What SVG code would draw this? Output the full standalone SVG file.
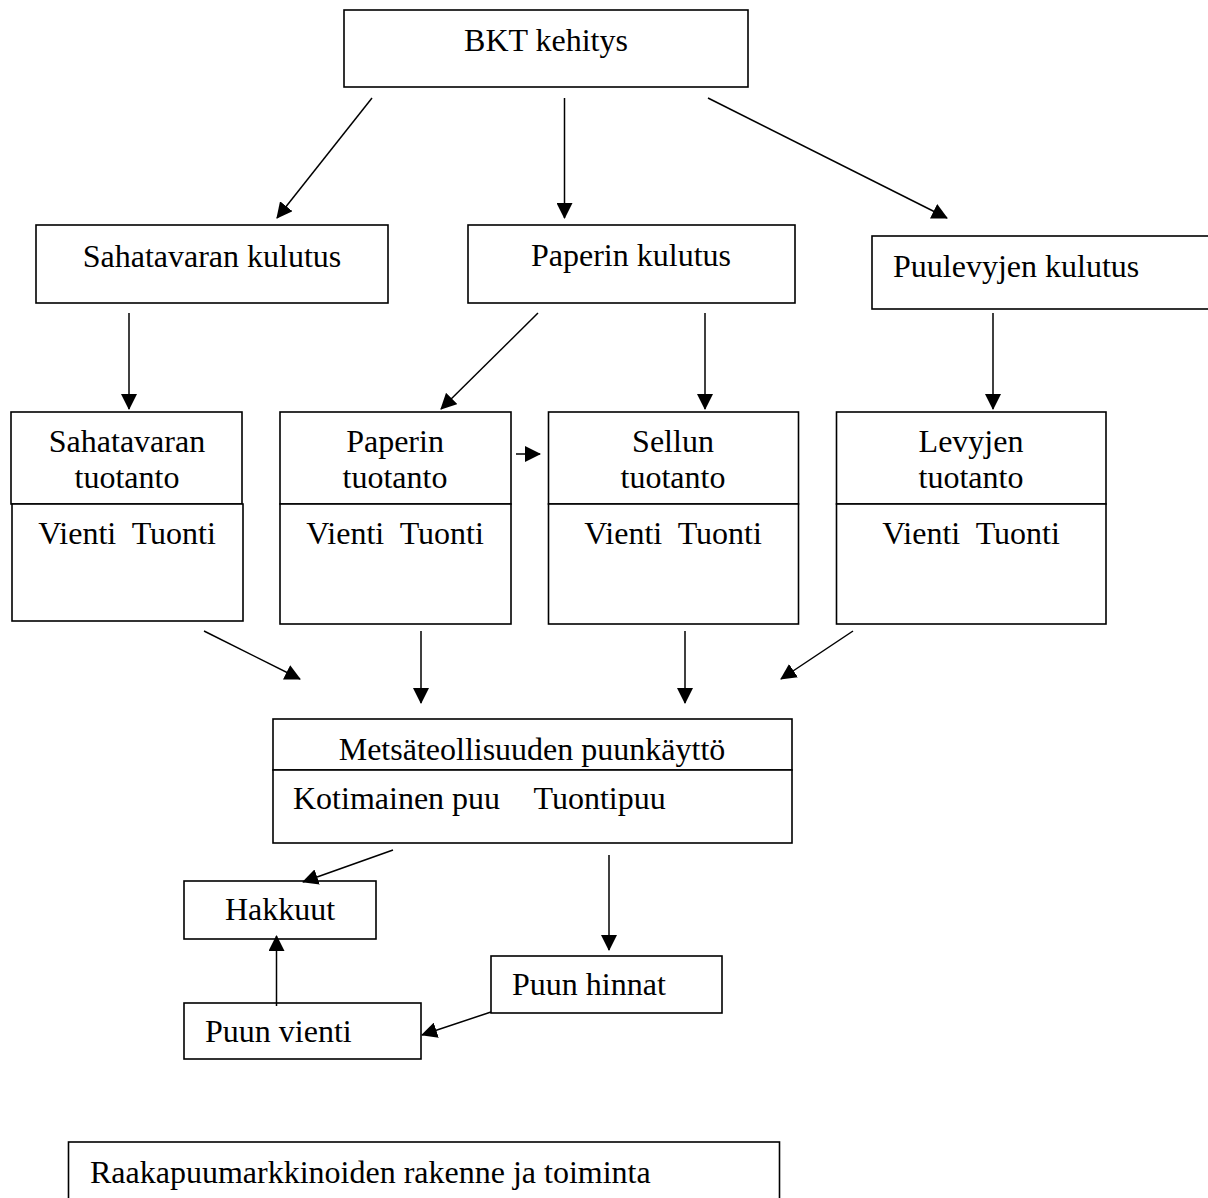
<svg xmlns="http://www.w3.org/2000/svg" width="1208" height="1198" viewBox="0 0 1208 1198">
<style>
.box{fill:#fff;stroke:#000;stroke-width:1.6}
.ln{fill:none;stroke:#000;stroke-width:1.5}
text{font-family:"Liberation Serif","Times New Roman",serif;font-size:32px;fill:#000}
.c{text-anchor:middle}
</style>
<defs>
<marker id="ah" markerUnits="userSpaceOnUse" markerWidth="16" markerHeight="16" viewBox="0 0 16 16" refX="15" refY="8" orient="auto">
<path d="M0,0 L16,8 L0,16 Z" fill="#000"/>
</marker>
</defs>
<rect width="1208" height="1198" fill="#fff"/>
<g id="bkt"><rect class="box" x="344" y="10" width="404" height="77"/><text class="c" x="546" y="51">BKT kehitys</text></g>
<g id="sahakulutus"><rect class="box" x="36" y="225" width="352" height="78"/><text class="c" x="212" y="267">Sahatavaran kulutus</text></g>
<g id="paperikulutus"><rect class="box" x="468" y="225" width="327" height="78"/><text class="c" x="631" y="266">Paperin kulutus</text></g>
<g id="puulevykulutus"><rect class="box" x="872" y="236" width="340" height="73"/><text x="893" y="277">Puulevyjen kulutus</text></g>
<g id="sahatuotanto"><rect class="box" x="11" y="412" width="231" height="92"/><rect class="box" x="12" y="504" width="231" height="117"/><text class="c" x="127" y="452">Sahatavaran</text><text class="c" x="127" y="488">tuotanto</text><text class="c" x="127" y="544" xml:space="preserve">Vienti  Tuonti</text></g>
<g id="paperituotanto"><rect class="box" x="280" y="412" width="231" height="92"/><rect class="box" x="280" y="504" width="231" height="120"/><text class="c" x="395" y="452">Paperin</text><text class="c" x="395" y="488">tuotanto</text><text class="c" x="395" y="544" xml:space="preserve">Vienti  Tuonti</text></g>
<g id="sellutuotanto"><rect class="box" x="548.5" y="412" width="250" height="92"/><rect class="box" x="548.5" y="504" width="250" height="120"/><text class="c" x="673" y="452">Sellun</text><text class="c" x="673" y="488">tuotanto</text><text class="c" x="673" y="544" xml:space="preserve">Vienti  Tuonti</text></g>
<g id="levytuotanto"><rect class="box" x="836.5" y="412" width="269.5" height="92"/><rect class="box" x="836.5" y="504" width="269.5" height="120"/><text class="c" x="971" y="452">Levyjen</text><text class="c" x="971" y="488">tuotanto</text><text class="c" x="971" y="544" xml:space="preserve">Vienti  Tuonti</text></g>
<g id="metsa"><rect class="box" x="273" y="719" width="519" height="51"/><rect class="box" x="273" y="770" width="519" height="73"/><text class="c" x="532" y="760">Metsäteollisuuden puunkäyttö</text><text x="293" y="809">Kotimainen puu</text><text x="533.5" y="809">Tuontipuu</text></g>
<g id="hakkuut"><rect class="box" x="184" y="881" width="192" height="58"/><text class="c" x="280" y="920">Hakkuut</text></g>
<g id="puunhinnat"><rect class="box" x="491" y="956" width="231" height="57"/><text x="512" y="995">Puun hinnat</text></g>
<g id="puunvienti"><rect class="box" x="184" y="1003" width="237" height="56"/><text x="205" y="1042">Puun vienti</text></g>
<g id="raakapuu"><rect class="box" x="68.5" y="1142" width="711" height="70"/><text x="90" y="1183">Raakapuumarkkinoiden rakenne ja toiminta</text></g>
<g id="connectors">
<line class="ln" x1="372" y1="98" x2="277" y2="218" marker-end="url(#ah)"/>
<line class="ln" x1="564.5" y1="98" x2="564.5" y2="218" marker-end="url(#ah)"/>
<line class="ln" x1="708" y1="98" x2="947" y2="218" marker-end="url(#ah)"/>
<line class="ln" x1="129" y1="313" x2="129" y2="409" marker-end="url(#ah)"/>
<line class="ln" x1="538" y1="313" x2="441" y2="409" marker-end="url(#ah)"/>
<line class="ln" x1="705" y1="313" x2="705" y2="409" marker-end="url(#ah)"/>
<line class="ln" x1="993" y1="313" x2="993" y2="409" marker-end="url(#ah)"/>
<line class="ln" x1="516" y1="454" x2="540" y2="454" marker-end="url(#ah)"/>
<line class="ln" x1="204" y1="631" x2="300" y2="679" marker-end="url(#ah)"/>
<line class="ln" x1="421" y1="631" x2="421" y2="703" marker-end="url(#ah)"/>
<line class="ln" x1="685" y1="631" x2="685" y2="703" marker-end="url(#ah)"/>
<line class="ln" x1="853" y1="631" x2="781" y2="679" marker-end="url(#ah)"/>
<line class="ln" x1="393" y1="850" x2="303" y2="882" marker-end="url(#ah)"/>
<line class="ln" x1="609" y1="855" x2="609" y2="950" marker-end="url(#ah)"/>
<line class="ln" x1="276.5" y1="1006" x2="276.5" y2="936" marker-end="url(#ah)"/>
<line class="ln" x1="491" y1="1012" x2="422" y2="1035" marker-end="url(#ah)"/>
</g>
</svg>
